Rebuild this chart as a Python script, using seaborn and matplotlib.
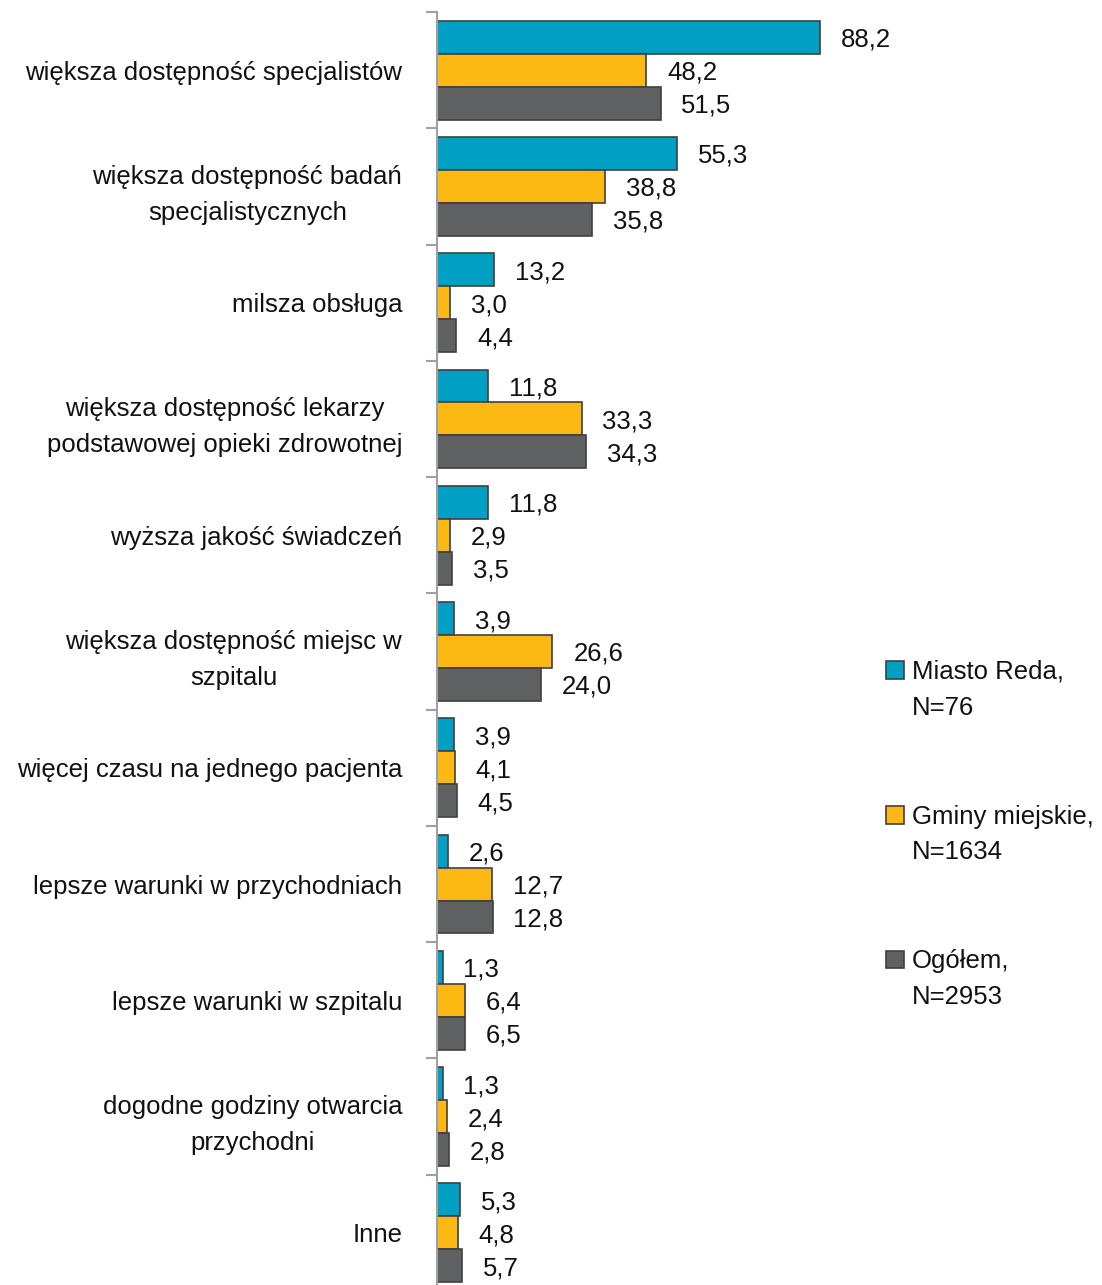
import matplotlib
matplotlib.use("Agg")
import matplotlib.pyplot as plt
import matplotlib.ticker as mticker
from matplotlib import font_manager
from matplotlib.patches import Patch, Rectangle
from matplotlib.legend_handler import HandlerPatch
import seaborn as sns
import pandas as pd
import numpy as np

categories = [
    "większa dostępność specjalistów",
    "większa dostępność badań\nspecjalistycznych",
    "milsza obsługa",
    "większa dostępność lekarzy\npodstawowej opieki zdrowotnej",
    "wyższa jakość świadczeń",
    "większa dostępność miejsc w\nszpitalu",
    "więcej czasu na jednego pacjenta",
    "lepsze warunki w przychodniach",
    "lepsze warunki w szpitalu",
    "dogodne godziny otwarcia\nprzychodni",
    "Inne",
]
series = ["Miasto Reda,\nN=76", "Gminy miejskie,\nN=1634", "Ogółem,\nN=2953"]
reda = [88.2, 55.3, 13.2, 11.8, 11.8, 3.9, 3.9, 2.6, 1.3, 1.3, 5.3]
gminy = [48.2, 38.8, 3.0, 33.3, 2.9, 26.6, 4.1, 12.7, 6.4, 2.4, 4.8]
ogolem = [51.5, 35.8, 4.4, 34.3, 3.5, 24.0, 4.5, 12.8, 6.5, 2.8, 5.7]

COLORS = ["#00a0c4", "#fdb913", "#5f6062"]
EDGE = "#404040"
LS = 1.62

df = pd.DataFrame({
    "kategoria": categories * 3,
    "seria": np.repeat(series, len(categories)),
    "wartosc": reda + gminy + ogolem,
})

sns.set_style("white")

# narrow font if there is one, else plain Liberation Sans a bit smaller
names = {f.name for f in font_manager.fontManager.ttflist}
if "Liberation Sans Narrow" in names:
    plt.rcParams["font.family"] = ["Liberation Sans Narrow", "DejaVu Sans"]
    FS = 21
else:
    plt.rcParams["font.family"] = ["Liberation Sans", "DejaVu Sans"]
    FS = 18.5
plt.rcParams["text.color"] = "#111111"

fig = plt.figure(figsize=(11.02, 12.85), dpi=100)
ax = fig.add_axes([437 / 1102, -0.0047, (871 - 437) / 1102, 0.9907 + 0.0047])

sns.barplot(data=df, y="kategoria", x="wartosc", hue="seria", order=categories,
            hue_order=series, palette=COLORS, saturation=1, orient="h", width=0.85,
            edgecolor=EDGE, linewidth=1.2, ax=ax, legend=False)

for cont in ax.containers:
    labels = [f"{b.get_width():.1f}".replace(".", ",") for b in cont]
    txts = ax.bar_label(cont, labels=labels, padding=15, fontsize=FS)
    for t in txts:
        t.set_va("center_baseline")

ax.set_xlim(0, 100)
ax.set_ylim(len(categories) - 0.5, -0.5)
ax.set_xlabel("")
ax.set_ylabel("")
ax.set_xticks([])
for s in ["top", "right", "bottom"]:
    ax.spines[s].set_visible(False)
ax.spines["left"].set_color("#a0a0a0")
ax.spines["left"].set_linewidth(1.5)

ax.tick_params(axis="y", which="major", length=0, pad=25, labelsize=FS, labelcolor="#111111")
for lab in ax.get_yticklabels():
    lab.set_multialignment("center")
    lab.set_linespacing(LS)
ax.yaxis.set_minor_locator(mticker.FixedLocator(np.arange(-0.5, len(categories), 1.0)))
ax.tick_params(axis="y", which="minor", length=8, width=1.5, color="#a0a0a0", left=True)


# legend square sits next to the first line of its two-line label
def first_line_box(legend, orig_handle, xdescent, ydescent, width, height, fontsize):
    return Rectangle((-xdescent, -ydescent + 0.78 * fontsize), width, height)


handles = [Patch(facecolor=c, edgecolor=EDGE, linewidth=1.2) for c in COLORS]
leg = fig.legend(handles, series, loc="upper left", bbox_to_anchor=(886 / 1102, 1 - 660 / 1285),
                 frameon=False, fontsize=FS, handlelength=0.7, handleheight=0.7,
                 handletextpad=0.3, labelspacing=3.3, borderaxespad=0, borderpad=0,
                 handler_map={Patch: HandlerPatch(patch_func=first_line_box)})
for t in leg.get_texts():
    t.set_linespacing(LS)

fig.savefig("out.png", dpi=100)
